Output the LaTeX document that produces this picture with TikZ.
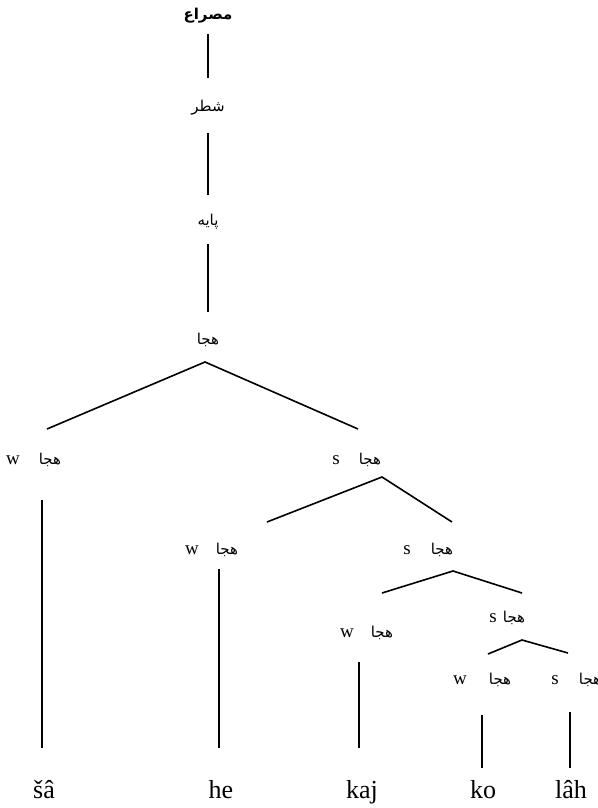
\documentclass[tikz,border=0pt]{standalone}
\usepackage{fontspec}
\setmainfont{Liberation Serif}
\newfontfamily\farsi[Script=Arabic]{DejaVu Sans}
\TeXXeTstate=1
\usetikzlibrary{positioning}

\begin{document}
\begin{tikzpicture}[
    x=1pt, y=-1pt,
    % Persian labels: sans, right to left
    fa/.style={font=\farsi\fontsize{15}{17}\selectfont, inner sep=1pt},
    ws/.style={font=\fontsize{19}{21}\selectfont, inner sep=1pt},
    word/.style={font=\fontsize{26}{28}\selectfont, anchor=base, inner sep=0pt},
    edge/.style={line width=1.6pt}
]
\useasboundingbox (0,0) rectangle (597,808);

% =========================================================
% TOP CHAIN
% =========================================================
\node[fa, font=\farsi\bfseries\fontsize{15}{17}\selectfont] (masra) at (208,16) {\beginR مصراع\endR};
\node[fa] (shatr) at (208,108) {\beginR شطر\endR};
\node[fa] (paye) at (208,222) {\beginR پایه\endR};
\node[fa] (hj0) at (208,340) {\beginR هجا\endR};

\draw[edge] ([yshift=-18pt]masra.center) -- ([yshift=30pt]shatr.center);
\draw[edge] ([yshift=-25pt]shatr.center) -- ([yshift=27pt]paye.center);
\draw[edge] ([yshift=-22pt]paye.center) -- ([yshift=28pt]hj0.center);

% =========================================================
% ROWS OF SYLLABLES
% =========================================================
\node[ws] (w1) at (13,460) {w};
\node[fa] (hj1) at (50,460) {\beginR هجا\endR};
\node[ws] (s2) at (336,460) {s};
\node[fa] (hj2) at (370,460) {\beginR هجا\endR};

\node[ws] (w3) at (192,550) {w};
\node[fa] (hj3) at (227,550) {\beginR هجا\endR};
\node[ws] (s4) at (407,550) {s};
\node[fa] (hj4) at (442,550) {\beginR هجا\endR};

\node[ws] (w5) at (347,633) {w};
\node[fa] (hj5) at (382,633) {\beginR هجا\endR};
\node[ws] (s6) at (493,618) {s};
\node[fa] (hj6) at (514,618) {\beginR هجا\endR};

\node[ws] (w7) at (460,680) {w};
\node[fa] (hj7) at (500,680) {\beginR هجا\endR};
\node[ws] (s8) at (555,680) {s};
\node[fa] (hj8) at (590,680) {\beginR هجا\endR};

% Words
\node[word] (sa) at (44,798) {šâ};
\node[word] (he) at (221,798) {he};
\node[word] (kaj) at (362,798) {kaj};
\node[word] (ko) at (483,798) {ko};
\node[word] (lah) at (571,798) {lâh};

% =========================================================
% BRANCHES
% =========================================================
\draw[edge] ([xshift=-3pt,yshift=31pt]hj1.center) -- ([xshift=-3pt,yshift=-22pt]hj0.center) -- ([xshift=-12pt,yshift=31pt]hj2.center);
\draw[edge] ([xshift=40pt,yshift=28pt]hj3.center) -- ([xshift=12pt,yshift=-17pt]hj2.center) -- ([xshift=10pt,yshift=28pt]hj4.center);
\draw[edge] ([yshift=40pt]hj5.center) -- ([xshift=11pt,yshift=-21pt]hj4.center) -- ([xshift=8pt,yshift=25pt]hj6.center);
\draw[edge] ([xshift=-12pt,yshift=26pt]hj7.center) -- ([xshift=8pt,yshift=-22pt]hj6.center) -- ([xshift=-22pt,yshift=27pt]hj8.center);

% Stems down to the words
\draw[edge] ([xshift=-8pt,yshift=-40pt]hj1.center) -- ([xshift=-2pt,yshift=50pt]sa.base);
\draw[edge] ([xshift=-8pt,yshift=-19pt]hj3.center) -- ([xshift=-2pt,yshift=50pt]he.base);
\draw[edge] ([xshift=-23pt,yshift=-29pt]hj5.center) -- ([xshift=-3pt,yshift=50pt]kaj.base);
\draw[edge] ([xshift=-18pt,yshift=-35pt]hj7.center) -- ([xshift=-1pt,yshift=30pt]ko.base);
\draw[edge] ([xshift=-20pt,yshift=-32pt]hj8.center) -- ([xshift=-1pt,yshift=30pt]lah.base);

\end{tikzpicture}
\end{document}
